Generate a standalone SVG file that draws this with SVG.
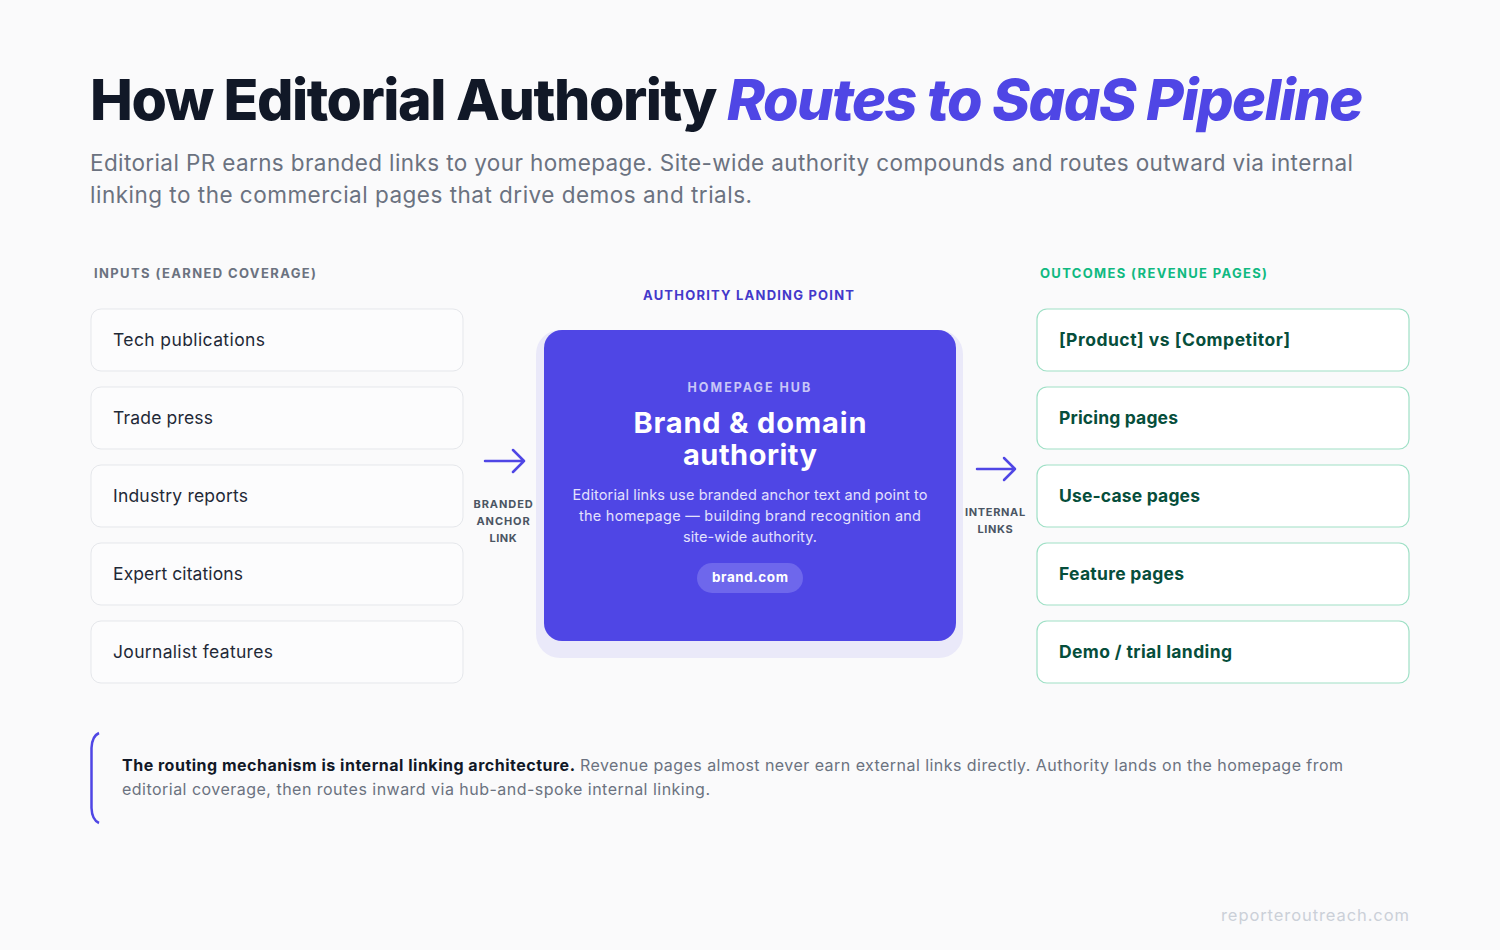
<svg xmlns="http://www.w3.org/2000/svg" width="1500" height="950" viewBox="0 0 1500 950">
<style>
text{font-family:Inter,"Open Sans","Liberation Sans",sans-serif}
.title{font-size:57px;font-weight:800;fill:#111827;letter-spacing:-1.5px}
.accent{fill:#4f46e5;font-style:italic}
.sub{font-size:22.5px;fill:#6b7280}
.sec{font-size:13px;font-weight:700;letter-spacing:2px}
.inbox{fill:#fcfcfd;stroke:#e5e7eb;stroke-width:1}
.outbox{fill:#ffffff;stroke:#9fe0c6;stroke-width:1.2}
.intext{font-size:17.5px;fill:#1f2937}
.outtext{font-size:17.5px;font-weight:700;fill:#064e3b}
.lbl{font-size:11px;font-weight:700;letter-spacing:1.8px;fill:#4b5563;text-anchor:middle}
.arrow{fill:none;stroke:#4f46e5;stroke-width:2.5;stroke-linecap:round;stroke-linejoin:round}
.desc{font-size:14.5px;fill:#e3e1fd;text-anchor:middle}
</style>
<rect width="1500" height="950" fill="#fafafb"/>
<g id="header">
<text class="title" x="90" y="120" textLength="626" lengthAdjust="spacingAndGlyphs">How Editorial Authority</text>
<text class="title accent" x="727" y="120" textLength="635" lengthAdjust="spacingAndGlyphs">Routes to SaaS Pipeline</text>
<text class="sub" x="90" y="171" textLength="1263" lengthAdjust="spacing">Editorial PR earns branded links to your homepage. Site-wide authority compounds and routes outward via internal</text>
<text class="sub" x="90" y="203" textLength="662" lengthAdjust="spacing">linking to the commercial pages that drive demos and trials.</text>
</g>
<g id="section-labels">
<text class="sec" x="94" y="278" fill="#6b7280" textLength="224" lengthAdjust="spacing">INPUTS (EARNED COVERAGE)</text>
<text class="sec" x="1040" y="278" fill="#10b981" textLength="229" lengthAdjust="spacing">OUTCOMES (REVENUE PAGES)</text>
<text class="sec" x="643" y="300" fill="#4338ca" textLength="213" lengthAdjust="spacing">AUTHORITY LANDING POINT</text>
</g>
<g id="in-1"><rect class="inbox" x="91" y="309" width="372" height="62" rx="10"/><text class="intext" x="113" y="346" textLength="152" lengthAdjust="spacing">Tech publications</text></g>
<g id="in-2"><rect class="inbox" x="91" y="387" width="372" height="62" rx="10"/><text class="intext" x="113" y="424" textLength="100" lengthAdjust="spacing">Trade press</text></g>
<g id="in-3"><rect class="inbox" x="91" y="465" width="372" height="62" rx="10"/><text class="intext" x="113" y="502" textLength="135" lengthAdjust="spacing">Industry reports</text></g>
<g id="in-4"><rect class="inbox" x="91" y="543" width="372" height="62" rx="10"/><text class="intext" x="113" y="580" textLength="130" lengthAdjust="spacing">Expert citations</text></g>
<g id="in-5"><rect class="inbox" x="91" y="621" width="372" height="62" rx="10"/><text class="intext" x="113" y="658" textLength="160" lengthAdjust="spacing">Journalist features</text></g>
<g id="hub">
<rect x="536" y="330" width="427" height="328" rx="24" fill="#eae9f9"/>
<rect x="544" y="330" width="412" height="311" rx="18" fill="#4f46e5"/>
<text x="750" y="392" font-size="12.5" font-weight="700" letter-spacing="2.2" fill="#c9c6f7" text-anchor="middle" textLength="125" lengthAdjust="spacing">HOMEPAGE HUB</text>
<text x="750" y="433" font-size="29" font-weight="700" fill="#ffffff" text-anchor="middle" textLength="233" lengthAdjust="spacing">Brand &amp; domain</text>
<text x="750" y="465" font-size="29" font-weight="700" fill="#ffffff" text-anchor="middle" textLength="134" lengthAdjust="spacing">authority</text>
<text class="desc" x="750" y="500" textLength="355" lengthAdjust="spacing">Editorial links use branded anchor text and point to</text>
<text class="desc" x="750" y="521" textLength="342" lengthAdjust="spacing">the homepage — building brand recognition and</text>
<text class="desc" x="750" y="542" textLength="134" lengthAdjust="spacing">site-wide authority.</text>
<rect x="697" y="563" width="106" height="30" rx="15" fill="#6e67ec"/>
<text x="750" y="582" font-size="13.5" font-weight="700" fill="#ffffff" text-anchor="middle" textLength="76" lengthAdjust="spacing">brand.com</text>
</g>
<g id="out-1"><rect class="outbox" x="1037" y="309" width="372" height="62" rx="10"/><text class="outtext" x="1059" y="346" textLength="231" lengthAdjust="spacing">[Product] vs [Competitor]</text></g>
<g id="out-2"><rect class="outbox" x="1037" y="387" width="372" height="62" rx="10"/><text class="outtext" x="1059" y="424" textLength="119" lengthAdjust="spacing">Pricing pages</text></g>
<g id="out-3"><rect class="outbox" x="1037" y="465" width="372" height="62" rx="10"/><text class="outtext" x="1059" y="502" textLength="141" lengthAdjust="spacing">Use-case pages</text></g>
<g id="out-4"><rect class="outbox" x="1037" y="543" width="372" height="62" rx="10"/><text class="outtext" x="1059" y="580" textLength="125" lengthAdjust="spacing">Feature pages</text></g>
<g id="out-5"><rect class="outbox" x="1037" y="621" width="372" height="62" rx="10"/><text class="outtext" x="1059" y="658" textLength="173" lengthAdjust="spacing">Demo / trial landing</text></g>
<g id="connectors">
<path class="arrow" d="M485 461 H524 M513 450 L524 461 L513 472"/>
<text class="lbl" x="504" y="508" textLength="61" lengthAdjust="spacing">BRANDED</text>
<text class="lbl" x="504" y="525" textLength="55" lengthAdjust="spacing">ANCHOR</text>
<text class="lbl" x="504" y="542" textLength="29" lengthAdjust="spacing">LINK</text>
<path class="arrow" d="M977 469 H1015 M1004 458 L1015 469 L1004 480"/>
<text class="lbl" x="996" y="516" textLength="62" lengthAdjust="spacing">INTERNAL</text>
<text class="lbl" x="996" y="533" textLength="37" lengthAdjust="spacing">LINKS</text>
</g>
<g id="callout">
<path d="M99 733 Q92 736 91.5 748 V808 Q92 820 99 823" fill="none" stroke="#4f46e5" stroke-width="2.5"/>
<text x="122" y="771" font-size="16" font-weight="700" fill="#111827" textLength="453" lengthAdjust="spacing">The routing mechanism is internal linking architecture.</text>
<text x="580" y="771" font-size="16" fill="#6b7280" textLength="763" lengthAdjust="spacing">Revenue pages almost never earn external links directly. Authority lands on the homepage from</text>
<text x="122" y="795" font-size="16" fill="#6b7280" textLength="588" lengthAdjust="spacing">editorial coverage, then routes inward via hub-and-spoke internal linking.</text>
</g>
<g id="footer">
<text x="1409" y="921" font-size="16.5" fill="#cbd0d8" text-anchor="end" textLength="188" lengthAdjust="spacing">reporteroutreach.com</text>
</g>
</svg>
